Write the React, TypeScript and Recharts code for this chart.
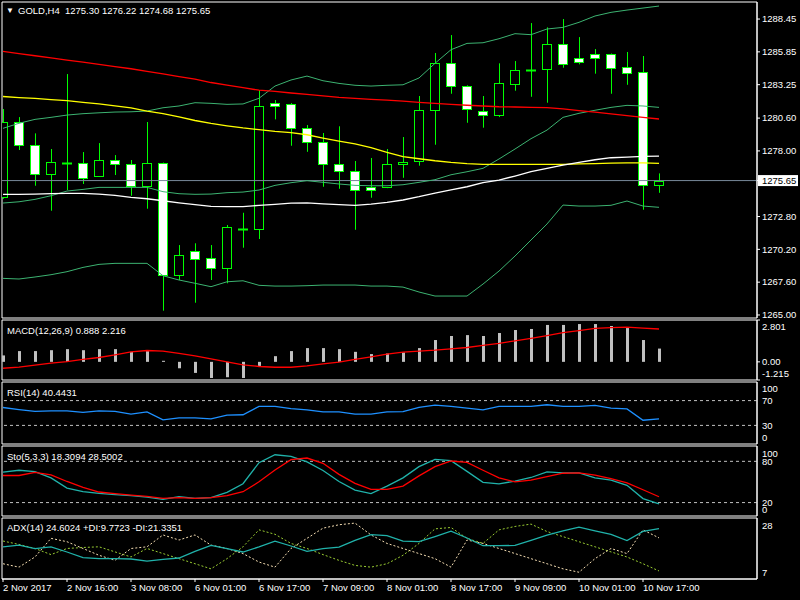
import React from "react";
import { ComposedChart, Bar, Line, XAxis, YAxis, ReferenceLine, ReferenceArea } from "recharts";

// ---------- data ----------
const barIndex = [0,1,2,3,4,5,6,7,8,9,10,11,12,13,14,15,16,17,18,19,20,21,22,23,24,25,26,27,28,29,30,31,32,33,34,35,36,37,38,39,40,41];
const tickIndex = [0, 4, 8, 12, 16, 20, 24, 28, 32, 36, 40];
const tickLabels = ["2 Nov 2017", "2 Nov 16:00", "3 Nov 08:00", "6 Nov 01:00", "6 Nov 17:00", "7 Nov 09:00", "8 Nov 01:00", "8 Nov 17:00", "9 Nov 09:00", "10 Nov 01:00", "10 Nov 17:00"];

const opens = [1274.35, 1280.26, 1278.44, 1276.14, 1277.04, 1277.02, 1276.03, 1277.25, 1276.94, 1275.19, 1277.02, 1268.14, 1270.04, 1269.49, 1268.70, 1271.81, 1271.79, 1281.77, 1281.69, 1279.79, 1278.68, 1276.94, 1276.38, 1275.11, 1275.11, 1276.94, 1277.17, 1281.22, 1284.94, 1283.12, 1281.14, 1280.82, 1283.28, 1284.39, 1284.46, 1286.45, 1285.34, 1285.65, 1285.65, 1284.62, 1284.23, 1275.30];
const highs = [1281.32, 1280.68, 1279.39, 1278.15, 1284.09, 1277.91, 1278.62, 1277.67, 1277.28, 1280.29, 1277.08, 1270.54, 1270.68, 1270.54, 1272.13, 1273.10, 1282.82, 1282.03, 1281.79, 1280.05, 1279.42, 1279.95, 1277.20, 1277.44, 1278.15, 1279.10, 1282.35, 1285.76, 1287.18, 1283.20, 1282.35, 1284.94, 1285.12, 1288.13, 1287.79, 1288.45, 1287.02, 1286.07, 1285.72, 1285.84, 1285.52, 1276.22];
const lows = [1274.20, 1278.07, 1275.24, 1273.26, 1274.90, 1275.38, 1275.95, 1276.09, 1274.45, 1273.42, 1265.34, 1267.77, 1265.97, 1267.77, 1267.51, 1270.33, 1271.02, 1280.50, 1278.41, 1277.93, 1275.16, 1275.00, 1271.75, 1274.29, 1275.05, 1275.87, 1276.83, 1278.49, 1282.53, 1280.23, 1279.84, 1280.68, 1282.77, 1282.29, 1281.82, 1284.59, 1284.86, 1284.12, 1282.53, 1283.24, 1273.34, 1274.68];
const closes = [1280.29, 1278.44, 1276.14, 1277.09, 1277.04, 1275.83, 1277.25, 1276.94, 1275.19, 1277.02, 1268.14, 1269.73, 1269.46, 1268.70, 1271.94, 1271.81, 1281.53, 1281.53, 1279.79, 1278.68, 1276.94, 1276.38, 1274.88, 1274.88, 1276.94, 1277.14, 1281.22, 1284.94, 1283.12, 1281.29, 1280.82, 1283.35, 1284.39, 1284.39, 1286.45, 1284.86, 1285.02, 1285.34, 1284.54, 1284.15, 1275.30, 1275.65];

const bbUpper = [1279.79, 1280.19, 1280.50, 1280.66, 1280.84, 1280.95, 1281.02, 1281.08, 1281.10, 1281.16, 1281.42, 1281.56, 1281.82, 1281.77, 1281.69, 1281.72, 1282.17, 1283.14, 1283.62, 1283.93, 1283.56, 1283.35, 1283.20, 1283.14, 1283.20, 1283.24, 1283.78, 1284.94, 1286.02, 1286.52, 1286.57, 1286.89, 1287.29, 1287.21, 1287.66, 1287.79, 1288.19, 1288.69, 1288.98, 1289.16, 1289.32, 1289.48];
const bbMiddle = [1273.87, 1273.97, 1274.16, 1274.45, 1274.82, 1274.95, 1275.11, 1275.11, 1275.11, 1275.11, 1274.77, 1274.61, 1274.56, 1274.58, 1274.69, 1274.74, 1274.90, 1275.27, 1275.48, 1275.64, 1275.51, 1275.38, 1275.27, 1275.24, 1275.24, 1275.32, 1275.51, 1275.72, 1276.11, 1276.35, 1276.62, 1277.36, 1278.15, 1278.97, 1279.65, 1280.66, 1280.98, 1281.22, 1281.45, 1281.61, 1281.56, 1281.45];
const bbLower = [1267.90, 1267.85, 1268.01, 1268.19, 1268.43, 1268.77, 1269.01, 1269.09, 1269.09, 1269.09, 1268.11, 1267.77, 1267.51, 1267.24, 1267.63, 1267.71, 1267.35, 1267.29, 1267.29, 1267.32, 1267.37, 1267.37, 1267.37, 1267.29, 1267.29, 1267.21, 1266.82, 1266.50, 1266.50, 1266.50, 1267.45, 1268.48, 1269.67, 1270.94, 1272.21, 1273.71, 1273.63, 1273.63, 1273.69, 1274.03, 1273.63, 1273.53];
const maRed = [1285.88, 1285.71, 1285.54, 1285.37, 1285.20, 1285.03, 1284.85, 1284.68, 1284.51, 1284.31, 1284.11, 1283.89, 1283.68, 1283.42, 1283.22, 1283.01, 1282.81, 1282.71, 1282.59, 1282.48, 1282.36, 1282.25, 1282.17, 1282.09, 1282.02, 1281.94, 1281.85, 1281.76, 1281.68, 1281.62, 1281.56, 1281.50, 1281.48, 1281.45, 1281.43, 1281.33, 1281.20, 1281.07, 1280.93, 1280.79, 1280.65, 1280.53];
const maYellow = [1282.31, 1282.23, 1282.16, 1282.06, 1281.98, 1281.85, 1281.72, 1281.57, 1281.41, 1281.16, 1280.96, 1280.70, 1280.41, 1280.18, 1279.99, 1279.82, 1279.68, 1279.55, 1279.45, 1279.28, 1279.02, 1278.78, 1278.55, 1278.27, 1277.88, 1277.54, 1277.38, 1277.22, 1277.09, 1276.99, 1276.94, 1276.94, 1276.94, 1276.94, 1276.94, 1276.94, 1276.97, 1277.00, 1277.03, 1277.06, 1277.05, 1277.02];
const maWhite = [1274.56, 1274.56, 1274.58, 1274.61, 1274.64, 1274.64, 1274.58, 1274.48, 1274.32, 1274.21, 1274.05, 1273.89, 1273.74, 1273.61, 1273.58, 1273.58, 1273.69, 1273.77, 1273.87, 1273.89, 1273.81, 1273.74, 1273.69, 1273.79, 1273.92, 1274.11, 1274.37, 1274.66, 1274.92, 1275.16, 1275.48, 1275.69, 1276.01, 1276.35, 1276.62, 1276.88, 1277.09, 1277.30, 1277.46, 1277.51, 1277.57, 1277.59];

const macdMain = [0.43, 0.72, 0.72, 0.78, 0.85, 0.78, 0.85, 0.85, 0.67, 0.72, 0.07, -0.43, -0.74, -1.08, -1.03, -1.08, -0.27, 0.38, 0.72, 0.92, 0.92, 0.85, 0.67, 0.52, 0.56, 0.63, 0.92, 1.46, 1.73, 1.79, 1.73, 1.93, 2.13, 2.20, 2.47, 2.47, 2.53, 2.53, 2.40, 2.26, 1.46, 0.888];
const macdSignal = [-0.43, -0.36, -0.22, -0.09, 0.02, 0.16, 0.29, 0.47, 0.67, 0.76, 0.72, 0.56, 0.40, 0.20, 0.0, -0.20, -0.31, -0.36, -0.36, -0.27, -0.13, -0.02, 0.16, 0.34, 0.52, 0.65, 0.72, 0.78, 0.87, 0.96, 1.10, 1.23, 1.41, 1.57, 1.75, 1.95, 2.09, 2.24, 2.29, 2.33, 2.26, 2.2];
const rsi = [58.9, 55.5, 52.5, 53.3, 53.3, 51.0, 53.3, 52.5, 48.3, 51.7, 38.9, 42.2, 42.2, 40.6, 46.7, 47.2, 60.6, 60.6, 57.2, 55.0, 51.7, 51.7, 48.3, 48.3, 51.7, 52.2, 58.9, 62.8, 60.6, 57.8, 55.0, 60.6, 60.6, 60.6, 63.3, 60.6, 60.6, 62.2, 57.8, 56.7, 38.3, 40.44];
const stoMain = [64.2, 67.0, 65.1, 56.0, 41.1, 35.8, 33.4, 31.7, 30.1, 27.9, 24.8, 28.6, 26.2, 27.2, 34.9, 47.4, 78.1, 89.6, 87.2, 79.3, 66.6, 50.7, 38.2, 33.0, 44.0, 56.0, 72.3, 82.9, 81.0, 65.4, 49.5, 47.1, 51.2, 56.5, 64.6, 63.2, 63.2, 56.0, 52.8, 45.2, 25.8, 18.3];
const stoSignal = [59.4, 59.4, 63.9, 60.3, 50.7, 42.1, 35.4, 33.0, 31.0, 28.9, 26.2, 27.2, 26.2, 27.2, 30.1, 35.8, 50.2, 67.5, 82.4, 84.8, 77.1, 61.0, 48.0, 39.2, 39.2, 44.0, 58.9, 72.3, 80.5, 78.6, 67.0, 56.0, 50.2, 52.6, 57.9, 62.7, 63.2, 59.8, 55.0, 48.8, 38.7, 28.5];
const adxMain = [18.2, 18.8, 17.6, 18.2, 16.4, 14.4, 14.1, 14.1, 13.95, 13.2, 13.8, 14.3, 16.6, 18.7, 17.6, 16.4, 18.2, 20.2, 18.5, 16.6, 17.6, 18.1, 20.5, 22.5, 22.1, 20.2, 20.0, 21.8, 23.7, 21.3, 18.6, 18.6, 18.7, 20.5, 22.3, 23.8, 25.1, 23.8, 22.6, 20.4, 23.6, 24.6];
const plusDi = [20.24, 19.05, 17.63, 15.49, 17.63, 17.98, 18.22, 16.44, 14.66, 17.63, 15.85, 14.07, 12.29, 10.51, 14.07, 18.22, 24.15, 22.6, 19.4, 17.63, 15.49, 13.48, 11.7, 11.1, 12.29, 15.25, 19.4, 24.5, 24.98, 21.18, 19.4, 24.15, 25.34, 26.17, 23.56, 21.78, 20.0, 18.22, 16.44, 14.66, 12.29, 9.77];
const minusDi = [12.29, 11.1, 14.66, 21.18, 20.0, 17.63, 15.25, 13.48, 17.63, 18.22, 22.37, 20.59, 22.37, 18.81, 17.63, 15.85, 12.88, 11.1, 17.63, 21.18, 24.74, 25.93, 26.52, 22.37, 19.4, 17.63, 15.85, 14.07, 11.1, 20.59, 19.4, 17.63, 15.85, 14.07, 12.29, 10.51, 9.32, 14.07, 17.63, 15.85, 24.15, 21.34];

const currentPrice = 1275.65;
const priceTicks = [1288.45, 1285.85, 1283.25, 1280.6, 1278.0, 1272.8, 1270.2, 1267.6, 1265.0, 1275.65];
const macdTicks = [2.801, 0, -1.215];
const rsiTicks = [100, 70, 30, 0];
const stoTicks = [100, 80, 20, 0];
const adxTicks = [28, 7];

const rows = barIndex.map((i) => ({
  i,
  open: opens[i], high: highs[i], low: lows[i], close: closes[i],
  bbUpper: bbUpper[i], bbMiddle: bbMiddle[i], bbLower: bbLower[i],
  maRed: maRed[i], maYellow: maYellow[i], maWhite: maWhite[i],
  macd: macdMain[i], signal: macdSignal[i], rsi: rsi[i],
  stoMain: stoMain[i], stoSignal: stoSignal[i],
  adx: adxMain[i], plusDi: plusDi[i], minusDi: minusDi[i],
}));

// ---------- styling ----------
const FONT = '"Liberation Sans", Arial, sans-serif';
const FS = 9.5;
const X_DOMAIN: [number, number] = [-0.0625, 47.125];
const CANDLE = "#00FF00";

const CandleShape = (props: any) => {
  const { x, y, width, height, payload } = props;
  if (x == null || y == null) return null;
  const { open, close, high, low } = payload;
  const cx = Math.round(x + width / 2) + 0.5;
  const k = high - low > 0 ? height / (high - low) : 0;
  const yO = y + (high - open) * k;
  const yC = y + (high - close) * k;
  const top = Math.round(Math.min(yO, yC)) + 0.5;
  const bot = Math.round(Math.max(yO, yC)) + 0.5;
  const bear = close < open;
  return (
    <g>
      <line x1={cx} x2={cx} y1={y} y2={y + height} stroke={CANDLE} strokeWidth={1} />
      {open === close ? (
        <line x1={cx - 5.5} x2={cx + 4.5} y1={top} y2={top} stroke={CANDLE} strokeWidth={2} />
      ) : (
        <rect x={cx - 5} y={top} width={9} height={bot - top} fill={bear ? "#FFFFFF" : "#000000"} stroke={CANDLE} strokeWidth={1} />
      )}
    </g>
  );
};

const HistShape = (props: any) => {
  const { x, y, width, height } = props;
  if (x == null || y == null) return null;
  const top = Math.min(y, y + height);
  const h = Math.max(Math.abs(height), 1);
  return <rect x={Math.round(x + width / 2) - 1} y={top} width={3} height={h} fill="#C0C0C0" />;
};

const makeYTick = (fmt: (v: number) => string, offset: (v: number) => number, box?: number) => (props: any) => {
  const { x, y, payload } = props;
  const v = payload.value;
  if (box !== undefined && Math.abs(v - box) < 1e-9) {
    return (
      <g>
        <rect x={x - 4} y={y - 5.5} width={40} height={11} fill="#FFFFFF" />
        <text x={x} y={y} dy="0.35em" fill="#000000" fontSize={FS} fontFamily={FONT} textAnchor="start">{fmt(v)}</text>
      </g>
    );
  }
  return (
    <text x={x} y={y + offset(v)} dy="0.35em" fill="#FFFFFF" fontSize={FS} fontFamily={FONT} textAnchor="start">{fmt(v)}</text>
  );
};

const XTick = (props: any) => {
  const { x, y, payload } = props;
  const idx = tickIndex.indexOf(payload.value);
  return (
    <text x={x} y={y} dy="0.71em" fill="#FFFFFF" fontSize={FS} fontFamily={FONT} textAnchor="start">{tickLabels[idx]}</text>
  );
};

function panelProps(top: number) {
  return { position: "absolute" as const, left: 0, top };
}

const hiddenX = <XAxis dataKey="i" type="number" domain={X_DOMAIN} allowDataOverflow ticks={tickIndex} hide />;

const titleStyle = (top: number): React.CSSProperties => ({
  position: "absolute", left: 7, top, color: "#FFFFFF", fontFamily: FONT, fontSize: FS,
  lineHeight: "11px", whiteSpace: "pre", pointerEvents: "none",
});

export default function App() {
  const priceDomain: [number, number] = [1264.76, 1289.8];
  const macdDomain: [number, number] = [-1.215, 2.801];
  const rsiDomain: [number, number] = [0, 100];
  const stoDomain: [number, number] = [0.5, 102.3];
  const adxDomain: [number, number] = [6.95, 28.3];

  const yCommon = {
    orientation: "right" as const, width: 43, type: "number" as const, allowDataOverflow: true,
    interval: 0 as const, tickSize: 3, tickMargin: 2, axisLine: { stroke: "#FFFFFF" },
  };

  return (
    <div style={{ position: "absolute", left: 0, top: 0, width: 800, height: 600, background: "#000000", overflow: "hidden", fontFamily: FONT }}>
      <style>{"svg.recharts-surface { overflow: visible; }"}</style>
      {/* main price panel */}
      <div style={panelProps(2)}>
        <ComposedChart width={800} height={316} data={rows} margin={{ top: 0, right: 0, bottom: 0, left: 2 }}>
          {hiddenX}
          <YAxis {...yCommon} domain={priceDomain} ticks={priceTicks} tickLine={{ stroke: "#FFFFFF" }}
            tick={makeYTick((v) => v.toFixed(2), () => 0, currentPrice)} />
          <ReferenceLine y={currentPrice} stroke="#778899" strokeWidth={1} ifOverflow="visible" />
          <Bar dataKey={(d: any) => [d.low, d.high]} shape={CandleShape} barSize={10} isAnimationActive={false} />
          <Line dataKey="bbUpper" stroke="#3CB371" strokeWidth={1} dot={false} isAnimationActive={false} />
          <Line dataKey="bbMiddle" stroke="#3CB371" strokeWidth={1} dot={false} isAnimationActive={false} />
          <Line dataKey="bbLower" stroke="#3CB371" strokeWidth={1} dot={false} isAnimationActive={false} />
          <Line dataKey="maRed" stroke="#FF0000" strokeWidth={1.3} dot={false} isAnimationActive={false} />
          <Line dataKey="maYellow" stroke="#FFFF00" strokeWidth={1.3} dot={false} isAnimationActive={false} />
          <Line dataKey="maWhite" stroke="#FFFFFF" strokeWidth={1.3} dot={false} isAnimationActive={false} />
          <ReferenceArea x1={X_DOMAIN[0]} x2={X_DOMAIN[1]} y1={priceDomain[0]} y2={priceDomain[1]} fill="none" stroke="#FFFFFF" strokeWidth={1} ifOverflow="visible" />
        </ComposedChart>
      </div>

      {/* MACD */}
      <div style={panelProps(320)}>
        <ComposedChart width={800} height={60} data={rows} margin={{ top: 0, right: 0, bottom: 0, left: 2 }}>
          {hiddenX}
          <YAxis {...yCommon} domain={macdDomain} ticks={macdTicks} tickLine={{ stroke: "#FFFFFF" }}
            tick={makeYTick((v) => (v === 0 ? "0.00" : String(v)), (v) => (v > 1 ? 7 : v < -1 ? -6.7 : 0))} />
          <Bar dataKey="macd" shape={HistShape} barSize={3} fill="#C0C0C0" isAnimationActive={false} />
          <Line dataKey="signal" stroke="#FF0000" strokeWidth={1.3} dot={false} isAnimationActive={false} />
          <ReferenceArea x1={X_DOMAIN[0]} x2={X_DOMAIN[1]} y1={macdDomain[0]} y2={macdDomain[1]} fill="none" stroke="#FFFFFF" strokeWidth={1} ifOverflow="visible" />
        </ComposedChart>
      </div>

      {/* RSI */}
      <div style={panelProps(382)}>
        <ComposedChart width={800} height={62} data={rows} margin={{ top: 0, right: 0, bottom: 0, left: 2 }}>
          {hiddenX}
          <YAxis {...yCommon} domain={rsiDomain} ticks={rsiTicks} tickLine={false}
            tick={makeYTick((v) => String(v), (v) => (v === 100 ? 7 : v === 0 ? -6.7 : 0))} />
          <ReferenceLine y={70} stroke="#C0C0C0" strokeDasharray="3 3" />
          <ReferenceLine y={30} stroke="#C0C0C0" strokeDasharray="3 3" />
          <Line dataKey="rsi" stroke="#1E90FF" strokeWidth={1.3} dot={false} isAnimationActive={false} />
          <ReferenceArea x1={X_DOMAIN[0]} x2={X_DOMAIN[1]} y1={rsiDomain[0]} y2={rsiDomain[1]} fill="none" stroke="#FFFFFF" strokeWidth={1} ifOverflow="visible" />
        </ComposedChart>
      </div>

      {/* Stochastic */}
      <div style={panelProps(446)}>
        <ComposedChart width={800} height={70} data={rows} margin={{ top: 0, right: 0, bottom: 0, left: 2 }}>
          {hiddenX}
          <YAxis {...yCommon} domain={stoDomain} ticks={stoTicks} tickLine={false}
            tick={makeYTick((v) => String(v), (v) => (v === 100 ? 5.7 : v === 0 ? -7 : 0))} />
          <ReferenceLine y={80} stroke="#C0C0C0" strokeDasharray="3 3" />
          <ReferenceLine y={20} stroke="#C0C0C0" strokeDasharray="3 3" />
          <Line dataKey="stoMain" stroke="#20B2AA" strokeWidth={1.3} dot={false} isAnimationActive={false} />
          <Line dataKey="stoSignal" stroke="#FF0000" strokeWidth={1.3} dot={false} isAnimationActive={false} />
          <ReferenceArea x1={X_DOMAIN[0]} x2={X_DOMAIN[1]} y1={stoDomain[0]} y2={stoDomain[1]} fill="none" stroke="#FFFFFF" strokeWidth={1} ifOverflow="visible" />
        </ComposedChart>
      </div>

      {/* ADX + time axis */}
      <div style={panelProps(518)}>
        <ComposedChart width={800} height={82} data={rows} margin={{ top: 0, right: 0, bottom: 0, left: 2 }}>
          <XAxis dataKey="i" type="number" domain={X_DOMAIN} allowDataOverflow ticks={tickIndex} interval={0}
            height={21} tickSize={3} tickMargin={2} axisLine={{ stroke: "#FFFFFF" }} tickLine={{ stroke: "#FFFFFF" }} tick={XTick} />
          <YAxis {...yCommon} domain={adxDomain} ticks={adxTicks} tickLine={false}
            tick={makeYTick((v) => String(v), (v) => (v === 28 ? 6.8 : -6.2))} />
          <Line dataKey="plusDi" stroke="#9ACD32" strokeWidth={1} strokeDasharray="2 2" dot={false} isAnimationActive={false} />
          <Line dataKey="minusDi" stroke="#F5DEB3" strokeWidth={1} strokeDasharray="2 2" dot={false} isAnimationActive={false} />
          <Line dataKey="adx" stroke="#20B2AA" strokeWidth={1.3} dot={false} isAnimationActive={false} />
          <ReferenceArea x1={X_DOMAIN[0]} x2={X_DOMAIN[1]} y1={adxDomain[0]} y2={adxDomain[1]} fill="none" stroke="#FFFFFF" strokeWidth={1} ifOverflow="visible" />
        </ComposedChart>
      </div>

      {/* titles */}
      <div style={{ ...titleStyle(5), left: 6, fontSize: 8 }}>▼</div>
      <div style={{ ...titleStyle(5.3), left: 18 }}>{"GOLD,H4  1275.30 1276.22 1274.68 1275.65"}</div>
      <div style={titleStyle(324.6)}>{"MACD(12,26,9) 0.888 2.216"}</div>
      <div style={titleStyle(386.6)}>{"RSI(14) 40.4431"}</div>
      <div style={titleStyle(450.6)}>{"Sto(5,3,3) 18.3094 28.5002"}</div>
      <div style={titleStyle(522.3)}>{"ADX(14) 24.6024 +DI:9.7723 -DI:21.3351"}</div>
    </div>
  );
}
